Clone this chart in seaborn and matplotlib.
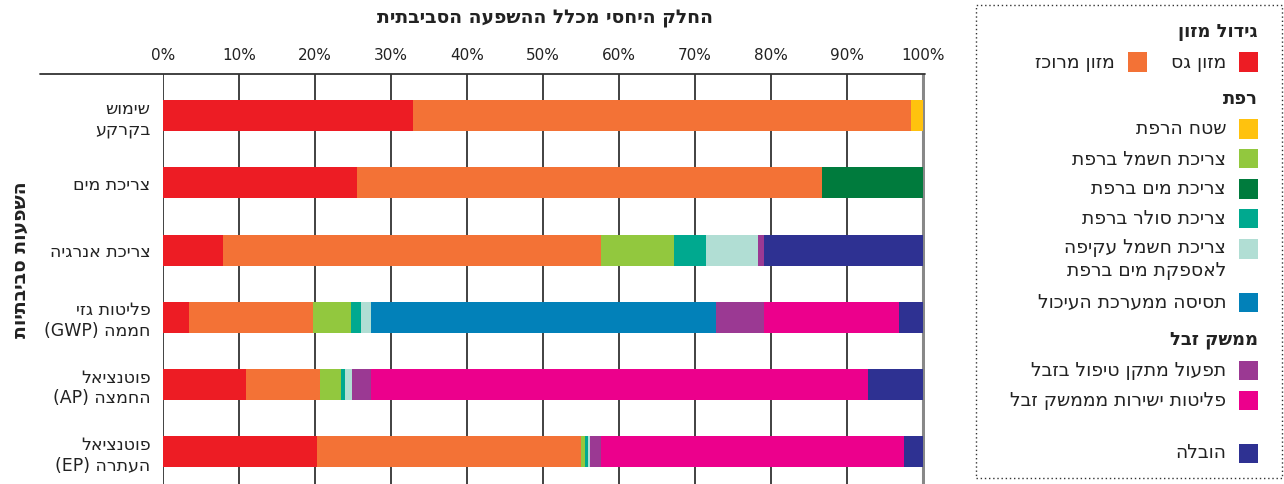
import numpy as np
import pandas as pd
import seaborn as sns
import matplotlib.pyplot as plt
from matplotlib.patches import Rectangle
from matplotlib.lines import Line2D

# קטגוריות (השפעות סביבתיות)
categories = ["שימוש\nבקרקע", "צריכת מים", "צריכת אנרגיה",
              "פליטות גזי\nחממה (GWP)", "פוטנציאל\nהחמצה (AP)", "פוטנציאל\nהעתרה (EP)"]

# רכיבים
components = ["מזון גס", "מזון מרוכז", "שטח הרפת", "צריכת חשמל ברפת", "צריכת מים ברפת",
              "צריכת סולר ברפת", "צריכת חשמל עקיפה\nלאספקת מים ברפת", "תסיסה ממערכת העיכול",
              "תפעול מתקן טיפול בזבל", "פליטות ישירות מממשק זבל", "הובלה"]

# אחוזים לכל רכיב לפי הקטגוריות
mazon_gas = [32.9, 25.5, 7.9, 3.4, 10.9, 20.3]
mazon_merukaz = [65.5, 61.2, 49.7, 16.4, 9.8, 34.7]
shetah_harefet = [1.6, 0, 0, 0, 0, 0]
hashmal_refet = [0, 0, 9.7, 5.0, 2.7, 0.5]
mayim_refet = [0, 13.3, 0, 0, 0, 0]
soler_refet = [0, 0, 4.2, 1.2, 0.5, 0.4]
hashmal_akif = [0, 0, 6.8, 1.4, 1.0, 0.3]
tsisa = [0, 0, 0, 45.4, 0, 0]
mitkan_zevel = [0, 0, 0.8, 6.3, 2.5, 1.5]
plitot_zevel = [0, 0, 0, 17.8, 65.4, 39.8]
hovala = [0, 0, 20.9, 3.1, 7.2, 2.5]

values = [mazon_gas, mazon_merukaz, shetah_harefet, hashmal_refet, mayim_refet,
          soler_refet, hashmal_akif, tsisa, mitkan_zevel, plitot_zevel, hovala]

colors = ["#ED1C24", "#F37236", "#FFC20E", "#92C83E", "#007B3D", "#00A98F",
          "#B1DED4", "#0281B9", "#9B3993", "#EC008C", "#2E3192"]

xticks = [0, 10, 20, 30, 40, 50, 60, 70, 80, 90, 100]
title = "החלק היחסי מכלל ההשפעה הסביבתית"
ylabel = "השפעות סביבתיות"


def rtl(s):
    # matplotlib has no bidi, so flip Hebrew words to visual order
    out_lines = []
    for line in s.split("\n"):
        words = line.split(" ")
        out = []
        for w in reversed(words):
            if any("\u0590" <= c <= "\u05ff" for c in w):
                out.append(w[::-1])
            else:
                out.append(w)
        out_lines.append(" ".join(out))
    return "\n".join(out_lines)


sns.set_theme(style="white")
plt.rcParams["font.family"] = ["DejaVu Sans"]

W, H = 1284, 484
fig = plt.figure(figsize=(W / 100, H / 100), dpi=100)
ax = fig.add_axes([163 / W, 0, (925 - 163) / W, 1 - 74 / H])

cats = [rtl(c) for c in categories]
df = pd.DataFrame(np.array(values).T, columns=components)
df["cat"] = cats
cum = df[components].cumsum(axis=1)

# gridlines under the bars
for t in xticks:
    ax.axvline(t, color="#888888" if t == 100 else "#333333",
               lw=2.2 if t == 100 else 1.3, zorder=0)

# stacked bars: draw cumulative totals from the last to the first
for comp, col in reversed(list(zip(components, colors))):
    sns.barplot(x=cum[comp].values, y=df["cat"], orient="h", color=col,
                saturation=1, width=0.46, linewidth=0, ax=ax, zorder=2)

ax.set_xlim(0, 100.3)
ax.set_ylim(5.48, -0.62)
ax.xaxis.tick_top()
ax.set_xticks(xticks)
ax.set_xticklabels([f"{t}%" for t in xticks], fontsize=11)
ax.tick_params(axis="x", length=0, pad=8, colors="#222222")
ax.tick_params(axis="y", length=0, pad=9, labelsize=12.5, colors="#222222")
ax.set_xlabel("")
ax.set_ylabel("")
for s in ax.spines.values():
    s.set_visible(False)

# top axis line, extends past the labels
fig.add_artist(Line2D([40 / W, 925 / W], [1 - 74 / H, 1 - 74 / H], color="#333333", lw=1.3))

fig.text(545 / W, 1 - 18 / H, rtl(title), ha="center", va="center", fontsize=13.5,
         fontweight="bold", color="#222222")
fig.text(20 / W, 1 - 260 / H, rtl(ylabel), ha="center", va="center", rotation=90,
         fontsize=13.5, fontweight="bold", color="#222222")

# legend box
fig.add_artist(Rectangle((976 / W, 1 - 478 / H), (1282 - 976) / W, (478 - 5) / H,
                         fill=False, ls=(0, (1, 2)), lw=1, ec="#333333"))


def head(y, s):
    fig.text(1258 / W, 1 - y / H, rtl(s), ha="right", va="center", fontsize=13,
             fontweight="bold", color="#222222")


def item(y, idx, xr=1258):
    fig.add_artist(Rectangle(((xr - 19) / W, 1 - (y + 9.5) / H), 19 / W, 19 / H,
                             color=colors[idx], lw=0))
    lab = components[idx]
    va = "top" if "\n" in lab else "center"
    yy = y - 11 if "\n" in lab else y
    fig.text((xr - 32) / W, 1 - yy / H, rtl(lab), ha="right", va=va, fontsize=13.5,
             color="#222222", linespacing=1.3)


head(32, "גידול מזון")
item(62, 0)
item(62, 1, xr=1147)
head(99, "רפת")
item(129, 2)
item(159, 3)
item(189, 4)
item(219, 5)
item(249, 6)
item(302, 7)
head(340, "ממשק זבל")
item(370, 8)
item(400, 9)
item(453, 10)

fig.savefig("out.png", dpi=100)
